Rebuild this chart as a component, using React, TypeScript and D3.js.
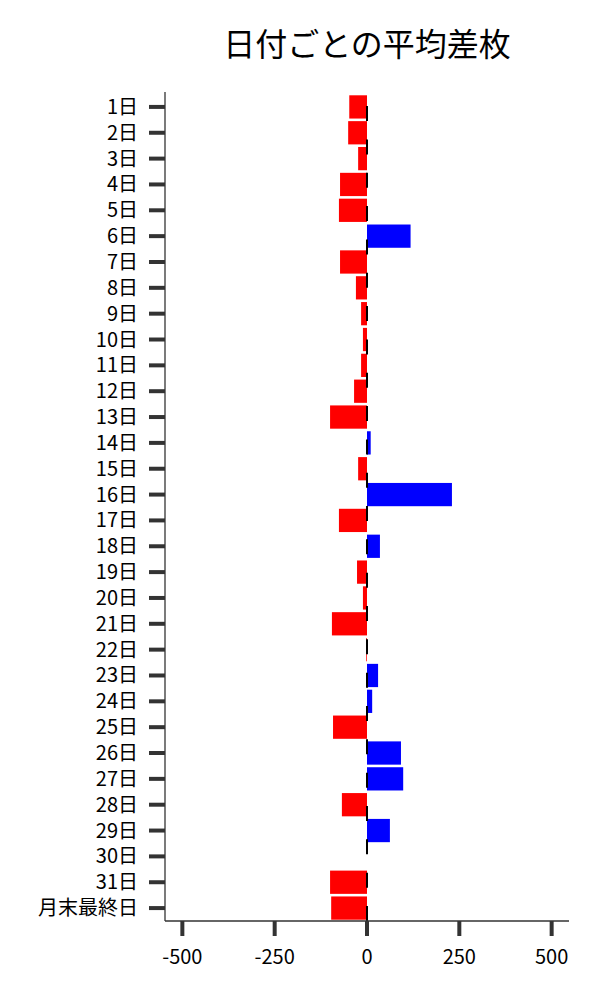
import React from "react";
import * as d3 from "d3";

const categories = [
  "1日","2日","3日","4日","5日","6日","7日","8日","9日","10日",
  "11日","12日","13日","14日","15日","16日","17日","18日","19日","20日",
  "21日","22日","23日","24日","25日","26日","27日","28日","29日","30日",
  "31日","月末最終日",
];
const values = [
  -48, -51, -24, -73, -76, 118, -73, -30, -16, -11,
  -16, -35, -100, 10, -24, 230, -76, 35, -27, -11,
  -95, -2, 30, 14, -92, 92, 98, -68, 62, 0,
  -100, -97,
];
const xTicks = [-500, -250, 0, 250, 500];
const title = "日付ごとの平均差枚";

const W = 600;
const H = 1000;
const left = 165;
const right = 569;
const top = 92;
const bottom = 921;
const font = "'Noto Sans CJK JP', 'Noto Sans', sans-serif";

export default function App() {
  const x = d3.scaleLinear().domain([-547, 547]).range([left, right]);
  const y = d3
    .scaleBand<string>()
    .domain(categories)
    .range([94, bottom])
    .paddingInner(0.1)
    .paddingOuter(0.05);
  const bw = y.bandwidth();
  const x0 = x(0);

  return (
    <svg
      width={W}
      height={H}
      style={{ position: "absolute", left: 0, top: 0, background: "#fff" }}
      fontFamily={font}
    >
      <rect x={0} y={0} width={W} height={H} fill="#fff" />
      <text x={(left + right) / 2} y={56} textAnchor="middle" fontSize={32} fill="#000">
        {title}
      </text>
      {categories.map((c, i) => {
        const v = values[i];
        const xa = x(Math.min(0, v));
        const xb = x(Math.max(0, v));
        return (
          <rect
            key={c}
            x={xa}
            y={y(c)!}
            width={Math.max(0, xb - xa)}
            height={bw}
            fill={v >= 0 ? "#0000ff" : "#ff0000"}
          />
        );
      })}
      <line
        x1={x0}
        x2={x0}
        y1={bottom}
        y2={top}
        stroke="#000"
        strokeWidth={2}
        strokeDasharray="15 18.33"
      />
      <line x1={left} x2={left} y1={top} y2={bottom} stroke="#333" strokeWidth={1.3} />
      <line x1={left} x2={right} y1={bottom} y2={bottom} stroke="#333" strokeWidth={1.3} />
      {categories.map((c) => {
        const cy = y(c)! + bw / 2;
        return (
          <g key={"t" + c}>
            <line x1={149} x2={left} y1={cy} y2={cy} stroke="#333" strokeWidth={4} />
            <text x={138} y={cy} dy="0.35em" textAnchor="end" fontSize={20} fill="#000">
              {c}
            </text>
          </g>
        );
      })}
      {xTicks.map((t) => (
        <g key={"x" + t}>
          <line x1={x(t)} x2={x(t)} y1={bottom} y2={bottom + 15} stroke="#333" strokeWidth={4} />
          <text x={x(t)} y={964} textAnchor="middle" fontSize={20} fill="#000">
            {t}
          </text>
        </g>
      ))}
    </svg>
  );
}
